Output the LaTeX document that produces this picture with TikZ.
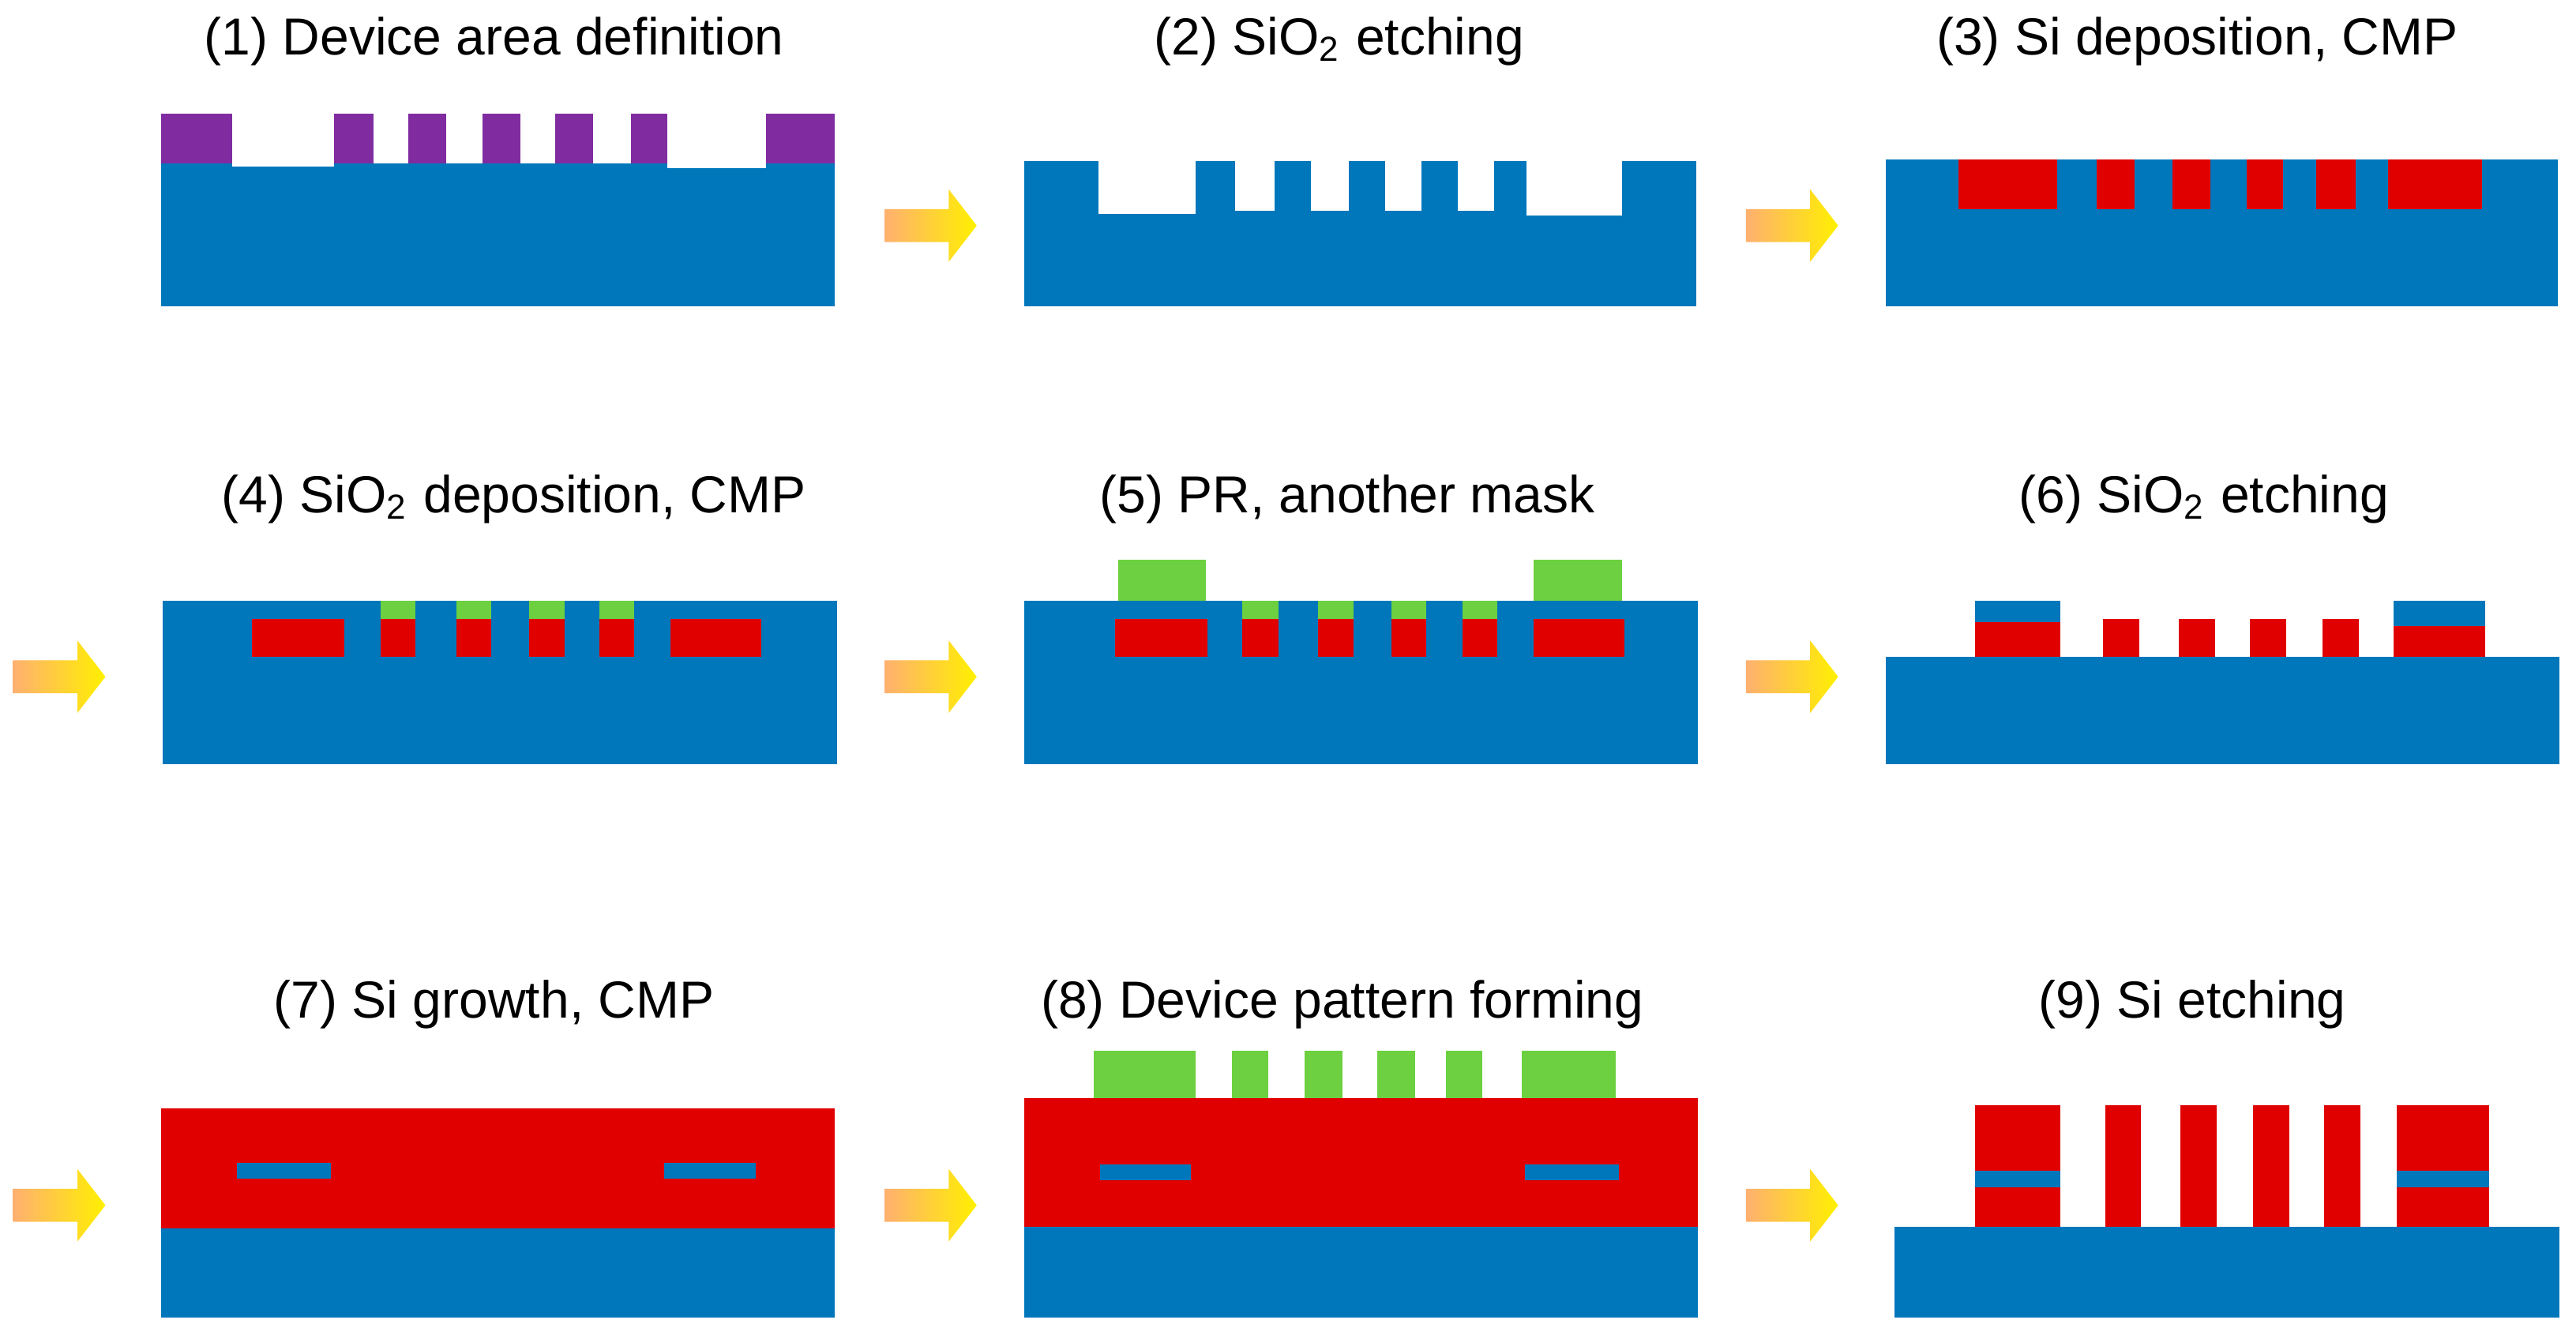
\documentclass[tikz,border=0pt]{standalone}
\usepackage{fontspec}
\setmainfont{Liberation Sans}
\definecolor{ox}{RGB}{0,119,187}
\definecolor{si}{RGB}{224,0,0}
\definecolor{pr}{RGB}{128,44,160}
\definecolor{gr}{RGB}{108,208,64}
\definecolor{arl}{RGB}{255,176,112}
\definecolor{arr}{RGB}{255,240,0}
\newcommand{\bx}[5]{\fill[#5] (#1,#2) rectangle (#3,#4);}
\newcommand{\arr}[2]{\shade[left color=arl, right color=arr, shading angle=90]
 (#1,#2-10) -- (#1+39,#2-10) -- (#1+39,#2-22) -- (#1+56,#2) -- (#1+39,#2+22) -- (#1+39,#2+10) -- (#1,#2+10) -- cycle;}
\tikzset{ttl/.style={font=\fontsize{9}{11}\selectfont, inner sep=0pt}}
\begin{document}
\begin{tikzpicture}[x=0.01cm,y=-0.01cm]
\useasboundingbox (0,0) rectangle (1564,808);
% titles
\node[ttl] at (300,25) {(1) Device area definition};
\node[ttl] at (813,25) {(2) SiO\textsubscript{2} etching};
\node[ttl] at (1334,25) {(3) Si deposition, CMP};
\node[ttl] at (312,303) {(4) SiO\textsubscript{2} deposition, CMP};
\node[ttl] at (818,303) {(5) PR, another mask};
\node[ttl] at (1338,303) {(6) SiO\textsubscript{2} etching};
\node[ttl] at (300,610) {(7) Si growth, CMP};
\node[ttl] at (815,610) {(8) Device pattern forming};
\node[ttl] at (1331,610) {(9) Si etching};
% arrows
\arr{537}{137}\arr{1060}{137}
\arr{8}{411}\arr{537}{411}\arr{1060}{411}
\arr{8}{732}\arr{537}{732}\arr{1060}{732}
% P1
\bx{98}{99}{507}{186}{ox}
\fill[white] (141,99) rectangle (203,101);
\fill[white] (405,99) rectangle (465,102);
\foreach \a/\b in {98/141,203/227,248/271,293/316,337/360,383/405,465/507}{\bx{\a}{69}{\b}{99}{pr}}
% P2
\bx{622}{98}{1030}{186}{ox}
\foreach \a/\b/\c in {667/726/130,750/774/128,796/819/128,841/863/128,885/907/128,927/985/131}{\bx{\a}{97}{\b}{\c}{white}}
% P3
\bx{1145}{97}{1553}{186}{ox}
\foreach \a/\b in {1189/1249,1273/1296,1319/1342,1364/1386,1406/1430,1450/1507}{\bx{\a}{97}{\b}{127}{si}}
% P4
\bx{99}{365}{508}{464}{ox}
\foreach \a/\b in {153/209,231/252,277/298,321/343,364/385,407/462}{\bx{\a}{376}{\b}{399}{si}}
\foreach \a/\b in {231/252,277/298,321/343,364/385}{\bx{\a}{365}{\b}{376}{gr}}
% P5
\bx{622}{365}{1031}{464}{ox}
\foreach \a/\b in {677/733,754/776,800/822,845/866,888/909,931/986}{\bx{\a}{376}{\b}{399}{si}}
\foreach \a/\b in {754/776,800/822,845/866,888/909}{\bx{\a}{365}{\b}{376}{gr}}
\bx{679}{340}{732}{365}{gr}\bx{931}{340}{985}{365}{gr}
% P6
\bx{1145}{399}{1554}{464}{ox}
\bx{1199}{365}{1251}{378}{ox}\bx{1199}{378}{1251}{399}{si}
\foreach \a/\b in {1277/1299,1323/1345,1366/1388,1410/1432}{\bx{\a}{376}{\b}{399}{si}}
\bx{1453}{365}{1509}{380}{ox}\bx{1453}{380}{1509}{399}{si}
% P7
\bx{98}{673}{507}{746}{si}\bx{98}{746}{507}{800}{ox}
\bx{144}{706}{201}{716}{ox}\bx{403}{706}{459}{716}{ox}
% P8
\foreach \a/\b in {664/726,748/770,792/815,836/859,878/900,924/981}{\bx{\a}{638}{\b}{667}{gr}}
\bx{622}{667}{1031}{745}{si}\bx{622}{745}{1031}{800}{ox}
\bx{668}{707}{723}{717}{ox}\bx{926}{707}{983}{717}{ox}
% P9
\bx{1150}{745}{1554}{800}{ox}
\foreach \a/\b in {1199/1251,1278/1300,1324/1346,1368/1390,1411/1433,1455/1511}{\bx{\a}{671}{\b}{745}{si}}
\bx{1199}{711}{1251}{721}{ox}\bx{1455}{711}{1511}{721}{ox}
\end{tikzpicture}
\end{document}
